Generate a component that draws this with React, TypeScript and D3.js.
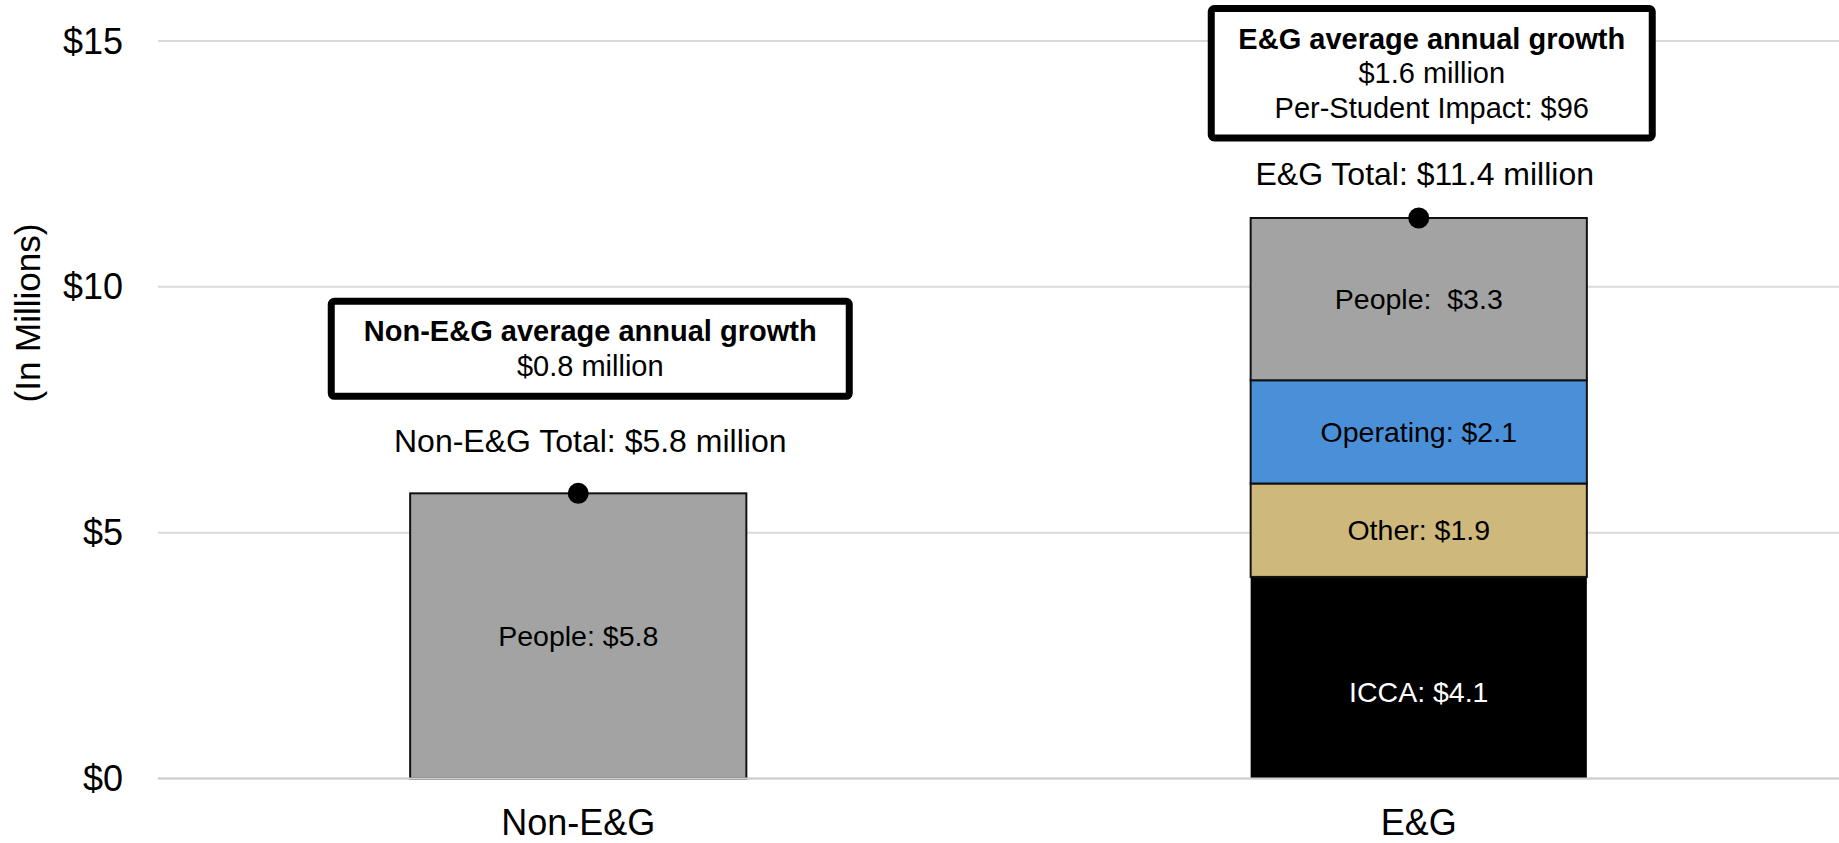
import React from "react";
import * as d3 from "d3";

// ---- Data ----
const categories = ["Non-E&G", "E&G"];
const segmentNames = ["ICCA", "Other", "Operating", "People"];
const segmentColors = ["#000000", "#cfb87c", "#4a90d9", "#a2a3a2"];
const nonEGValues = [0, 0, 0, 5.8];
const egValues = [4.1, 1.9, 2.1, 3.3];
const nonEGLabels = ["", "", "", "People: $5.8"];
const egLabels = ["ICCA: $4.1", "Other: $1.9", "Operating: $2.1", "People:  $3.3"];
const totals = [5.8, 11.4];
const totalLabels = ["Non-E&G Total: $5.8 million", "E&G Total: $11.4 million"];
const growthTitles = ["Non-E&G average annual growth", "E&G average annual growth"];
const growthLines = [["$0.8 million"], ["$1.6 million", "Per-Student Impact: $96"]];
const yTicks = [0, 5, 10, 15];
const yTickLabels = ["$0", "$5", "$10", "$15"];
const yTitle = "(In Millions)";

// ---- Layout ----
const W = 1839;
const H = 843;
const FONT = "'Liberation Sans', Arial, Helvetica, sans-serif";
const plotLeft = 158;
const plotRight = 1839;
const plotTop = 41;
const plotBottom = 778.5;

export default function App() {
  const x = d3
    .scaleBand<string>()
    .domain(categories)
    .range([plotLeft, plotRight])
    .paddingInner(0.6)
    .paddingOuter(0.3);
  const y = d3.scaleLinear().domain([0, 15]).range([plotBottom, plotTop]);

  const rows = [
    { cat: categories[0], values: nonEGValues, labels: nonEGLabels },
    { cat: categories[1], values: egValues, labels: egLabels },
  ];
  const table = rows.map((r) => {
    const o: any = { cat: r.cat };
    segmentNames.forEach((s, i) => (o[s] = r.values[i]));
    return o;
  });
  const stacked = d3.stack<any>().keys(segmentNames)(table);

  // annotation geometry (per category)
  const boxCenterOffset = [12, 13];
  const totalCenterOffset = [12, 6];
  const boxWidths = [518, 441];
  const boxPadTop = 12;
  const lineH = 34.5;
  const totalLabelGap = [41, 33];
  const boxGapAboveTotal = [56, 47];
  const labelDy = [14, 0, 0, 0];

  return (
    <svg
      width={W}
      height={H}
      style={{ position: "absolute", left: 0, top: 0, background: "#fff" }}
      fontFamily={FONT}
    >
      <rect x={0} y={0} width={W} height={H} fill="#fff" />
      {/* gridlines */}
      {yTicks.map((t) => (
        <line
          key={"g" + t}
          x1={plotLeft}
          x2={plotRight}
          y1={y(t)}
          y2={y(t)}
          stroke="#d9d9d9"
          strokeWidth={2}
        />
      ))}
      {/* y tick labels */}
      {yTicks.map((t, i) => (
        <text
          key={"t" + t}
          x={123}
          y={y(t)}
          textAnchor="end"
          dominantBaseline="central"
          fontSize={36}
          fill="#000"
        >
          {yTickLabels[i]}
        </text>
      ))}
      {/* y title */}
      <text
        transform={`translate(27, ${313}) rotate(-90)`}
        textAnchor="middle"
        dominantBaseline="central"
        fontSize={35}
        fill="#000"
      >
        {yTitle}
      </text>

      {/* stacked bars */}
      {stacked.map((layer, li) =>
        layer.map((d, ci) => {
          if (d[1] - d[0] <= 0) return null;
          const x0 = x(categories[ci])!;
          const bw = x.bandwidth();
          const isBlack = segmentColors[li] === "#000000";
          return (
            <rect
              key={`b${li}-${ci}`}
              x={x0}
              y={y(d[1])}
              width={bw}
              height={y(d[0]) - y(d[1])}
              fill={segmentColors[li]}
              stroke="#111"
              strokeWidth={isBlack ? 0 : 2}
            />
          );
        })
      )}
      {/* baseline overlay */}
      <line
        x1={plotLeft}
        x2={plotRight}
        y1={y(0)}
        y2={y(0)}
        stroke="#cfcfcf"
        strokeWidth={2}
      />
      {/* segment labels */}
      {stacked.map((layer, li) =>
        layer.map((d, ci) => {
          const label = rows[ci].labels[li];
          if (!label) return null;
          const cx = x(categories[ci])! + x.bandwidth() / 2;
          const cy = (y(d[0]) + y(d[1])) / 2 + labelDy[li];
          return (
            <text
              key={`l${li}-${ci}`}
              x={cx}
              y={cy}
              textAnchor="middle"
              dominantBaseline="central"
              fontSize={28.5}
              fill={segmentColors[li] === "#000000" ? "#fff" : "#000"}
              style={{ whiteSpace: "pre" }}
            >
              {label}
            </text>
          );
        })
      )}
      {/* total dots */}
      {categories.map((c, i) => (
        <circle
          key={"d" + c}
          cx={x(c)! + x.bandwidth() / 2}
          cy={y(totals[i])}
          r={10.5}
          fill="#000"
        />
      ))}
      {/* total labels and annotation boxes */}
      {categories.map((c, i) => {
        const bc = x(c)! + x.bandwidth() / 2;
        const cx = bc + boxCenterOffset[i];
        const totalBaseline = y(totals[i]) - totalLabelGap[i];
        const nLines = 1 + growthLines[i].length;
        const boxBottom = totalBaseline - boxGapAboveTotal[i];
        const boxH = boxPadTop * 2 + nLines * lineH + 2;
        const boxTop = boxBottom - boxH;
        const firstBaseline = boxTop + boxPadTop + 28;
        return (
          <g key={"a" + c}>
            <text
              x={bc + totalCenterOffset[i]}
              y={totalBaseline}
              textAnchor="middle"
              fontSize={32}
              fill="#000"
            >
              {totalLabels[i]}
            </text>
            <rect
              x={cx - boxWidths[i] / 2}
              y={boxTop}
              width={boxWidths[i]}
              height={boxH}
              rx={3}
              fill="#fff"
              stroke="#000"
              strokeWidth={7}
            />
            <text
              x={cx}
              y={firstBaseline}
              textAnchor="middle"
              fontSize={29}
              fontWeight="bold"
              fill="#000"
            >
              {growthTitles[i]}
            </text>
            {growthLines[i].map((ln, j) => (
              <text
                key={j}
                x={cx}
                y={firstBaseline + (j + 1) * lineH}
                textAnchor="middle"
                fontSize={29}
                fill="#000"
              >
                {ln}
              </text>
            ))}
          </g>
        );
      })}
      {/* category labels */}
      {categories.map((c) => (
        <text
          key={"c" + c}
          x={x(c)! + x.bandwidth() / 2}
          y={835}
          textAnchor="middle"
          fontSize={36}
          fill="#000"
        >
          {c}
        </text>
      ))}
    </svg>
  );
}
